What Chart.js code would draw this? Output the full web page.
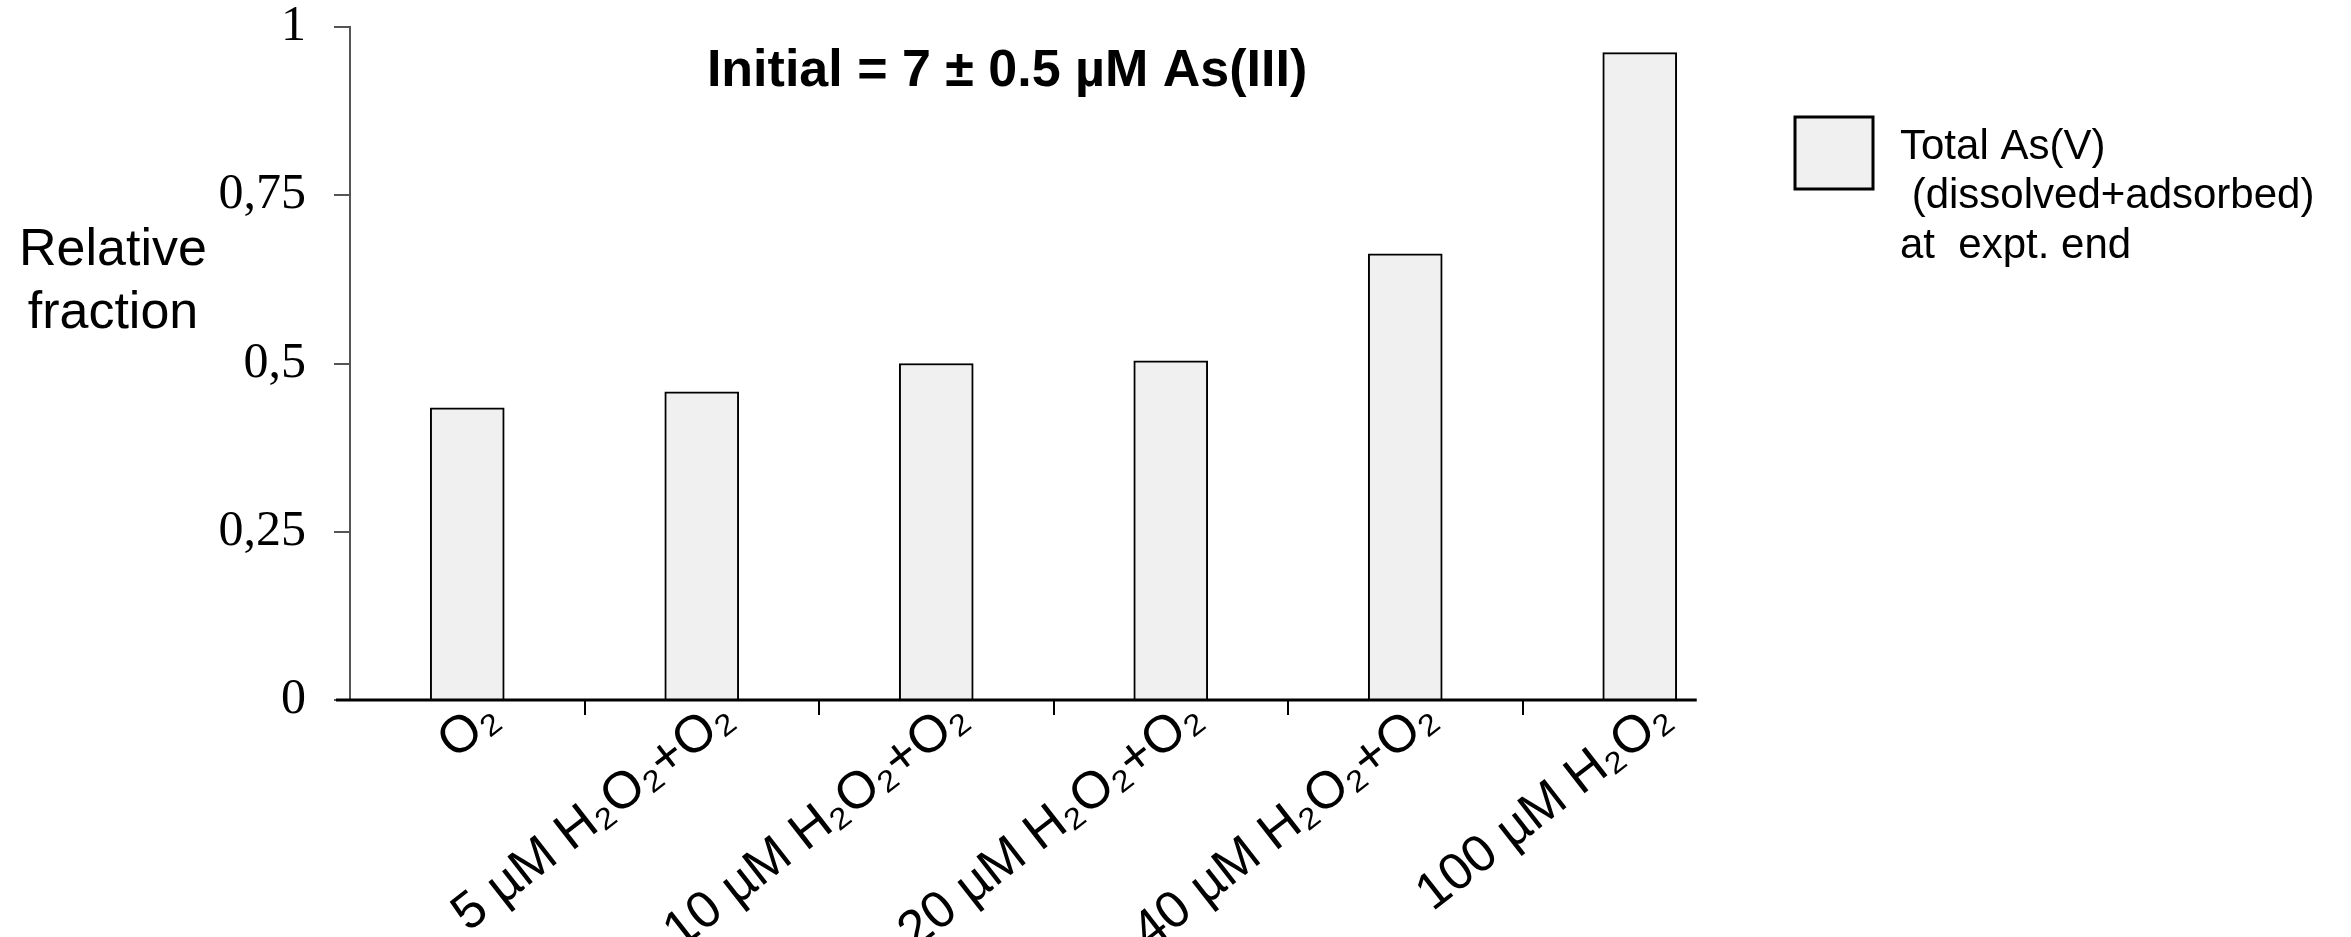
<!DOCTYPE html>
<html>
<head>
<meta charset="utf-8">
<script src="https://cdn.jsdelivr.net/npm/chart.js@4/dist/chart.umd.min.js"></script>
<style>
  html, body { margin: 0; padding: 0; background: #ffffff; }
  #wrap { width: 2351px; height: 937px; position: relative; }
</style>
</head>
<body>
<div id="wrap"><canvas id="c" width="2351" height="937"></canvas></div>
<script>
// ---- data ----
const categories = ['O₂', '5 µM H₂O₂+O₂', '10 µM H₂O₂+O₂', '20 µM H₂O₂+O₂', '40 µM H₂O₂+O₂', '100 µM H₂O₂'];
const totalAsV = [0.434, 0.458, 0.500, 0.504, 0.663, 0.962];
const yTickValues = [0, 0.25, 0.5, 0.75, 1];
const seriesLabel = ['Total As(V)', ' (dissolved+adsorbed)', 'at  expt. end'];
const chartTitle = 'Initial = 7 ± 0.5 µM As(III)';
const yAxisTitle = ['Relative', 'fraction'];

const SANS = '"Liberation Sans", Arial, sans-serif';
const SERIF = '"Liberation Serif", "Times New Roman", serif';

const extras = {
  id: 'extras',
  afterDatasetsDraw(chart) {
    const ctx = chart.ctx;
    const ca = chart.chartArea;
    const ys = chart.scales.y;
    const meta = chart.getDatasetMeta(0);
    const last = meta.data[meta.data.length - 1];
    const y0 = ys.getPixelForValue(0);
    ctx.save();
    ctx.strokeStyle = '#000';
    ctx.lineWidth = 3;
    ctx.beginPath();
    ctx.moveTo(ca.left - 14, y0);
    ctx.lineTo(last.x + last.width / 2 + 20, y0);
    ctx.stroke();
    ctx.restore();
  },
  afterDraw(chart) {
    const ctx = chart.ctx;
    const ca = chart.chartArea;
    ctx.save();
    ctx.fillStyle = '#000';
    ctx.font = 'bold 52px ' + SANS;
    ctx.textAlign = 'center';
    ctx.textBaseline = 'middle';
    ctx.fillText(chartTitle, ca.left + 0.467 * (ca.right - ca.left), ca.top + 45);
    ctx.font = '52px ' + SANS;
    ctx.textAlign = 'center';
    ctx.fillText(yAxisTitle[0], 113, ca.top + 224);
    ctx.fillText(yAxisTitle[1], 113, ca.top + 287);
    const ds = chart.data.datasets[0];
    const bx = ca.right + 38, by = ca.top + 90;
    ctx.fillStyle = ds.backgroundColor;
    ctx.fillRect(bx, by, 78, 72);
    ctx.strokeStyle = '#000';
    ctx.lineWidth = 3;
    ctx.strokeRect(bx, by, 78, 72);
    ctx.fillStyle = '#000';
    ctx.font = '42px ' + SANS;
    ctx.textAlign = 'left';
    ctx.textBaseline = 'middle';
    seriesLabel.forEach((t, i) => ctx.fillText(t, bx + 105, by + 30 + i * 49.5));
    ctx.restore();
  }
};

new Chart(document.getElementById('c'), {
  type: 'bar',
  data: {
    labels: categories,
    datasets: [{
      label: seriesLabel.join(' '),
      data: totalAsV,
      backgroundColor: '#f0f0f0',
      borderColor: '#000000',
      borderWidth: 2,
      borderSkipped: 'start',
      barThickness: 74
    }]
  },
  options: {
    responsive: false,
    animation: false,
    devicePixelRatio: 1,
    layout: { padding: { left: 0, top: 27, right: 594, bottom: 0 } },
    plugins: {
      legend: { display: false },
      title: { display: false },
      tooltip: { enabled: false }
    },
    scales: {
      x: {
        offset: true,
        border: { display: false },
        grid: {
          offset: true,
          drawOnChartArea: false,
          drawTicks: true,
          tickLength: 15,
          lineWidth: 2,
          color: c => (c.index >= 1 && c.index <= 5) ? '#000' : 'rgba(0,0,0,0)'
        },
        ticks: {
          color: '#000',
          font: { family: SANS, size: 52 },
          minRotation: 38,
          maxRotation: 38,
          labelOffset: 26,
          padding: -28,
          autoSkip: false
        },
        afterFit: s => { s.height = 237; s.paddingLeft = 0; s.paddingRight = 0; }
      },
      y: {
        min: 0,
        max: 1,
        border: { display: true, color: '#555', width: 2 },
        grid: {
          drawOnChartArea: false,
          drawTicks: true,
          tickLength: 16,
          color: '#555',
          lineWidth: 2
        },
        afterBuildTicks: s => { s.ticks = yTickValues.map(v => ({ value: v })); },
        ticks: {
          color: '#000',
          font: { family: SERIF, size: 50 },
          padding: 28,
          callback: v => String(v).replace('.', ',')
        },
        afterFit: s => { s.width = 350; s.paddingTop = 0; s.paddingBottom = 0; }
      }
    }
  },
  plugins: [extras]
});
</script>
</body>
</html>
